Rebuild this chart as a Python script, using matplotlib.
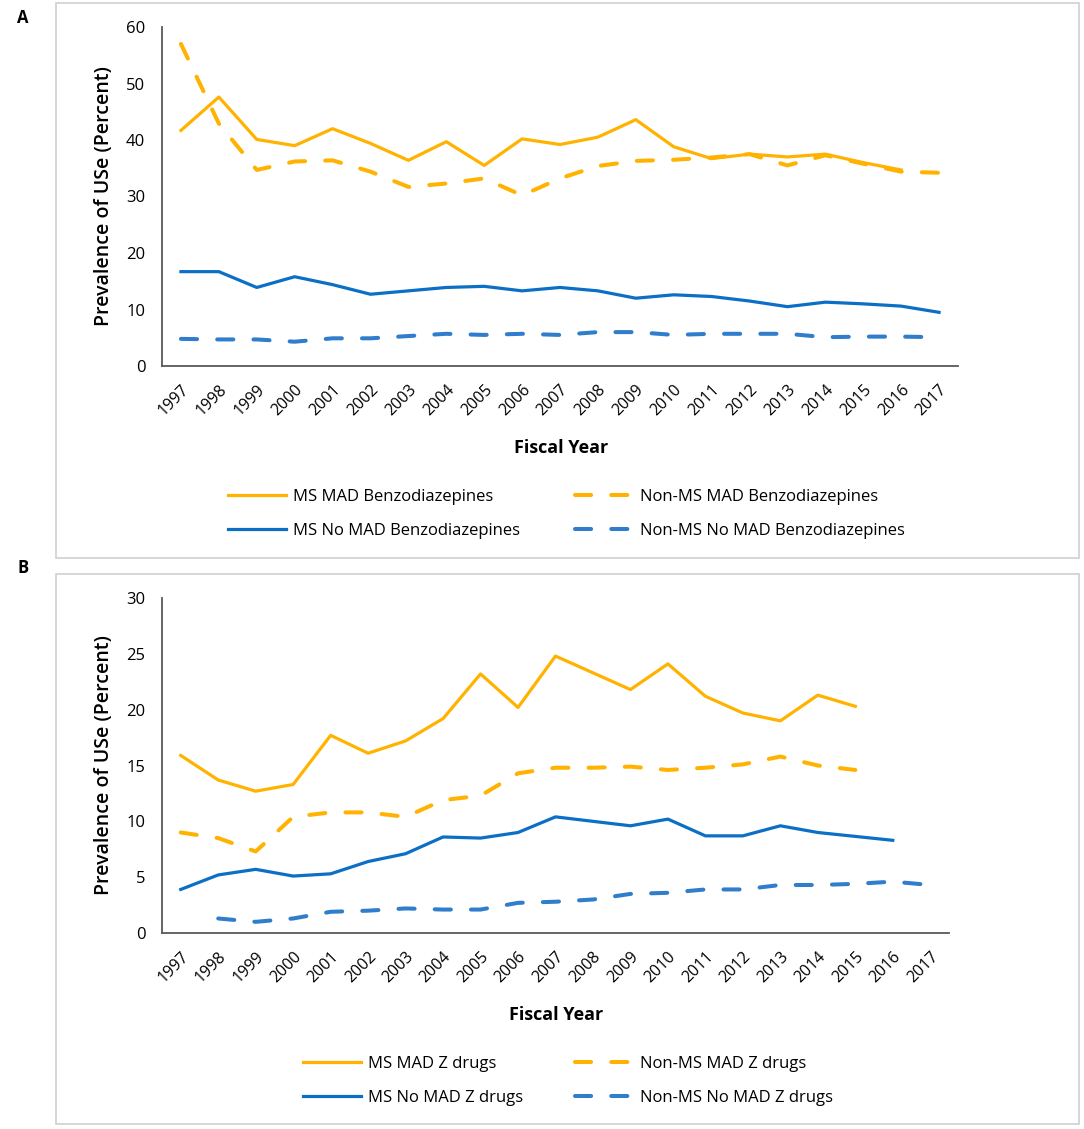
import numpy as np
import matplotlib.pyplot as plt
from matplotlib.patches import Rectangle

plt.rcParams['font.family'] = ['Open Sans', 'DejaVu Sans']

years = [str(y) for y in range(1997, 2018)]
nan = np.nan

# Panel A - benzodiazepines
ms_mad_benzo = [41.7, 47.6, 40.1, 39.0, 42.0, 39.4, 36.4, 39.7, 35.5, 40.2, 39.2,
                40.5, 43.6, 38.8, 36.7, 37.5, 37.0, 37.5, 36.0, 34.7, nan]
non_ms_mad_benzo = [57.0, 42.9, 34.7, 36.2, 36.4, 34.4, 31.7, 32.3, 33.2, 30.2, 33.2,
                    35.4, 36.3, 36.5, 36.9, 37.5, 35.5, 37.3, 35.8, 34.4, 34.2]
ms_nomad_benzo = [16.7, 16.7, 13.9, 15.8, 14.4, 12.7, 13.3, 13.9, 14.1, 13.3, 13.9,
                  13.3, 12.0, 12.6, 12.3, 11.5, 10.5, 11.3, 11.0, 10.6, 9.5]
non_ms_nomad_benzo = [4.8, 4.7, 4.7, 4.3, 4.9, 4.9, 5.3, 5.7, 5.5, 5.7, 5.5,
                      6.0, 6.0, 5.5, 5.7, 5.7, 5.7, 5.1, 5.2, 5.2, 5.1]

# Panel B - Z drugs
ms_mad_z = [15.9, 13.7, 12.7, 13.3, 17.7, 16.1, 17.2, 19.2, 23.2, 20.2, 24.8,
            23.3, 21.8, 24.1, 21.2, 19.7, 19.0, 21.3, 20.3, nan, nan]
non_ms_mad_z = [9.0, 8.5, 7.3, 10.4, 10.8, 10.8, 10.4, 11.9, 12.3, 14.3, 14.8,
                14.8, 14.9, 14.6, 14.8, 15.1, 15.8, 15.0, 14.6, nan, nan]
ms_nomad_z = [3.9, 5.2, 5.7, 5.1, 5.3, 6.4, 7.1, 8.6, 8.5, 9.0, 10.4,
              10.0, 9.6, 10.2, 8.7, 8.7, 9.6, 9.0, 8.65, 8.3, nan]
non_ms_nomad_z = [nan, 1.3, 1.0, 1.3, 1.9, 2.0, 2.2, 2.1, 2.1, 2.7, 2.8,
                  3.0, 3.5, 3.6, 3.9, 3.9, 4.3, 4.3, 4.4, 4.6, 4.3]

orange = '#FFB300'
blue = '#0B6FC6'
blue2 = '#2F7DCB'
grey = '#595959'

fig = plt.figure(figsize=(10.84, 11.29), dpi=100)

# panel frames
fig.patches.append(Rectangle((56/1084, 1-558/1129), 1023/1084, 555/1129,
                             transform=fig.transFigure, fill=False, ec='#D0D0D0', lw=1.2))
fig.patches.append(Rectangle((56/1084, 1-1124/1129), 1023/1084, 550/1129,
                             transform=fig.transFigure, fill=False, ec='#D0D0D0', lw=1.2))
fig.text(23/1084, 1-18/1129, 'A', fontsize=12, fontweight='bold', va='center', ha='center')
fig.text(23/1084, 1-568/1129, 'B', fontsize=12, fontweight='bold', va='center', ha='center')


def draw_panel(ax, series, labels, ymax, step):
    x = np.arange(len(years))
    styles = [(orange, '-'), (orange, '--'), (blue, '-'), (blue2, '--')]
    lines = []
    for vals, lab, (c, ls) in zip(series, labels, styles):
        if ls == '--':
            l, = ax.plot(x, vals, color=c, lw=2.9, label=lab, dash_capstyle='round')
            l.set_dashes((4.0, 5.0))
        else:
            l, = ax.plot(x, vals, color=c, lw=2.3, label=lab)
        lines.append(l)
    ax.set_xlim(-0.5, len(years) - 0.5)
    ax.set_ylim(0, ymax)
    ax.set_yticks(np.arange(0, ymax + 1, step))
    ax.set_xticks(x)
    ax.set_xticklabels(years, rotation=45, ha='right', rotation_mode='anchor', fontsize=11.5)
    ax.tick_params(axis='y', labelsize=12, length=0, pad=12)
    ax.tick_params(axis='x', length=0, pad=11)
    for s in ['top', 'right']:
        ax.spines[s].set_visible(False)
    for s in ['left', 'bottom']:
        ax.spines[s].set_color(grey)
        ax.spines[s].set_linewidth(1.3)
    ax.set_ylabel('Prevalence of USe (Percent)', fontsize=14, fontweight='semibold', labelpad=9)
    return lines


axA = fig.add_axes([162/1084, 1-366/1129, 796/1084, 339/1129])
lA = draw_panel(axA, [ms_mad_benzo, non_ms_mad_benzo, ms_nomad_benzo, non_ms_nomad_benzo],
                ['MS MAD Benzodiazepines', 'Non-MS MAD Benzodiazepines',
                 'MS No MAD Benzodiazepines', 'Non-MS No MAD Benzodiazepines'], 60, 10)
fig.text(561/1084, 1-448/1129, 'Fiscal Year', fontsize=13, fontweight='bold', ha='center', va='center')
fig.legend([lA[0], lA[2], lA[1], lA[3]], [lA[0].get_label(), lA[2].get_label(), lA[1].get_label(), lA[3].get_label()],
           loc='upper left', bbox_to_anchor=(213/1084, 1-474/1129), ncol=2, frameon=False,
           fontsize=12, handlelength=3.5, handletextpad=0.4, columnspacing=3.3, labelspacing=1.05)

axB = fig.add_axes([162/1084, 1-933/1129, 787/1084, 335/1129])
lB = draw_panel(axB, [ms_mad_z, non_ms_mad_z, ms_nomad_z, non_ms_nomad_z],
                ['MS MAD Z drugs', 'Non-MS MAD Z drugs', 'MS No MAD Z drugs', 'Non-MS No MAD Z drugs'], 30, 5)
fig.text(556/1084, 1-1015/1129, 'Fiscal Year', fontsize=13, fontweight='bold', ha='center', va='center')
fig.legend([lB[0], lB[2], lB[1], lB[3]], [lB[0].get_label(), lB[2].get_label(), lB[1].get_label(), lB[3].get_label()],
           loc='upper left', bbox_to_anchor=(288/1084, 1-1041/1129), ncol=2, frameon=False,
           fontsize=12, handlelength=3.5, handletextpad=0.4, columnspacing=3.1, labelspacing=1.05)

plt.savefig('out.png', dpi=100)
